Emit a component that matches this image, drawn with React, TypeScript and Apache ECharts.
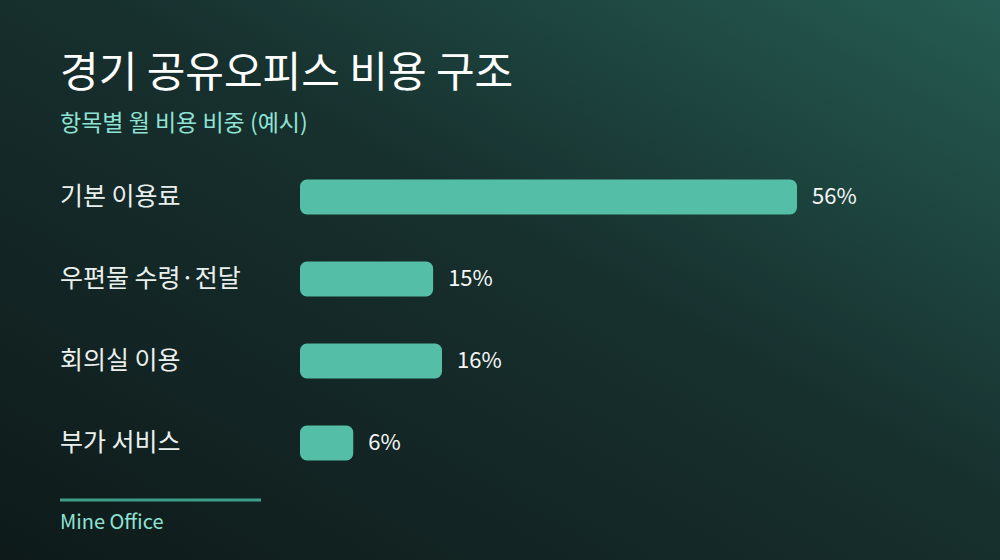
import React, { useEffect, useRef } from 'react';
import * as echarts from 'echarts';

const categories = ['기본 이용료', '우편물 수령·전달', '회의실 이용', '부가 서비스'];
const shares = [56, 15, 16, 6];
const titleText = '경기 공유오피스 비용 구조';
const subtitleText = '항목별 월 비용 비중 (예시)';
const sourceText = 'Mine Office';

const FONT = '"Noto Sans CJK KR", "Noto Sans", sans-serif';

const App: React.FC = () => {
  const chartRef = useRef<HTMLDivElement>(null);

  useEffect(() => {
    if (!chartRef.current) return;
    const chart = echarts.init(chartRef.current, undefined, { renderer: 'svg' });

    const option: echarts.EChartsOption = {
      animation: false,
      backgroundColor: new echarts.graphic.LinearGradient(1, 0, 0, 1, [
        { offset: 0, color: '#255c52' },
        { offset: 0.45, color: '#17302e' },
        { offset: 1, color: '#0e1a1a' },
      ]),
      textStyle: { fontFamily: FONT },
      title: [
        {
          text: titleText,
          left: 55,
          top: 42,
          textStyle: { color: '#ffffff', fontSize: 42, fontWeight: 400, fontFamily: FONT },
        },
        {
          text: subtitleText,
          left: 55,
          top: 104,
          textStyle: { color: '#8fe3d4', fontSize: 23, fontWeight: 400, fontFamily: FONT },
        },
      ],
      grid: { left: 300, top: 156, width: 497, height: 328 },
      xAxis: {
        type: 'value',
        min: 0,
        max: 56,
        show: false,
      },
      yAxis: {
        type: 'category',
        data: categories,
        inverse: true,
        axisLine: { show: false },
        axisTick: { show: false },
        axisLabel: {
          align: 'left',
          margin: 240,
          verticalAlign: 'middle',
          formatter: (v: string) => `{c|${v}}`,
          rich: {
            c: {
              color: '#eaf0ee',
              fontSize: 25,
              fontFamily: FONT,
              padding: [0, 0, 7, 0],
            },
          },
        },
      },
      series: [
        {
          type: 'bar',
          data: shares,
          barWidth: 35,
          itemStyle: { color: '#55bea7', borderRadius: 7 },
          label: {
            show: true,
            position: 'right',
            distance: 15,
            offset: [0, -3],
            formatter: '{c}%',
            color: '#f4f7f6',
            fontSize: 22,
            fontFamily: FONT,
          },
        },
      ],
      graphic: [
        {
          type: 'line',
          shape: { x1: 60, y1: 500, x2: 261, y2: 500 },
          style: { stroke: '#3f9e88', lineWidth: 3 },
        },
        {
          type: 'text',
          left: 60,
          top: 510,
          style: { text: sourceText, fill: '#8fe3d4', fontSize: 20, fontFamily: FONT },
        },
      ],
    };

    chart.setOption(option);
    return () => chart.dispose();
  }, []);

  return (
    <div
      ref={chartRef}
      style={{ position: 'fixed', left: 0, top: 0, width: '1000px', height: '560px' }}
    />
  );
};

export default App;
